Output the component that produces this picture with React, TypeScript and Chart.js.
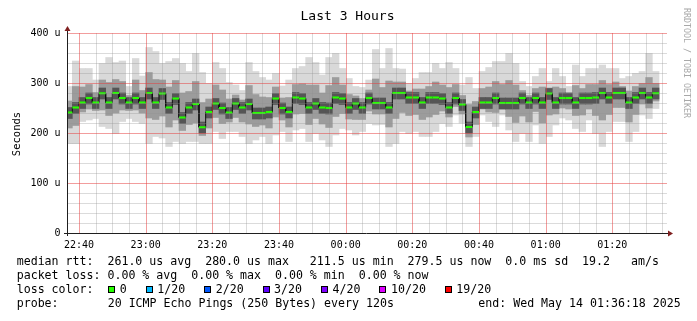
import React, { useEffect, useRef } from "react";
import { Chart, registerables } from "chart.js";

Chart.register(...registerables);

// time axis in minutes after 22:00 ; each ping step lasts 2 minutes
const xMin = 36.4;
const xMax = 216.4;
const firstStepStart = 36;
const stepMinutes = 2;

const medianRtt = [
  241, 251, 261, 270, 261, 279.5, 261, 280, 270, 261,
  270, 261, 280, 261, 279, 251, 269, 231, 251, 258,
  211.5, 242, 259, 250, 241, 259, 251, 258, 240, 240,
  242, 269, 250, 242, 271, 269, 251, 259, 251, 250,
  271, 269, 251, 259, 251, 270, 260, 260, 251, 280,
  280, 271, 271, 261, 271, 271, 269, 251, 270, 257,
  212, 242, 261, 261, 270, 260, 260, 260, 270, 261,
  270, 261, 279, 261, 270, 270, 261, 270, 270, 271,
  280, 271, 280, 280, 261, 271, 280, 271, 279.5,
];

const smokeMax = [
  293, 344, 329, 329, 306, 339, 351, 341, 344, 293,
  349, 314, 371, 363, 339, 343, 349, 339, 323, 359,
  321, 299, 341, 329, 301, 296, 285, 341, 323, 311,
  306, 319, 294, 306, 329, 333, 351, 341, 316, 351,
  359, 329, 309, 293, 291, 306, 367, 329, 369, 329,
  328, 299, 309, 321, 321, 339, 329, 341, 329, 296,
  311, 289, 323, 331, 343, 343, 359, 339, 303, 293,
  313, 329, 303, 329, 313, 293, 336, 313, 329, 329,
  336, 329, 329, 309, 313, 319, 323, 359, 323,
];

const smokeHigh = [
  264, 293, 292, 297, 281, 306, 301, 307, 303, 275,
  306, 285, 321, 307, 306, 292, 305, 280, 283, 303,
  261, 268, 296, 286, 268, 276, 266, 295, 277, 272,
  271, 292, 270, 271, 297, 298, 296, 296, 280, 295,
  311, 296, 277, 274, 269, 286, 308, 291, 304, 302,
  302, 284, 288, 288, 293, 302, 296, 291, 297, 275,
  257, 263, 289, 292, 303, 297, 305, 296, 285, 275,
  289, 292, 290, 292, 289, 280, 295, 289, 297, 297,
  305, 297, 302, 293, 284, 293, 299, 311, 299,
];

const coreHigh = [
  251, 261, 271, 280, 271, 290, 271, 290, 280, 271,
  280, 271, 290, 271, 289, 261, 279, 241, 261, 268,
  222, 252, 269, 260, 251, 269, 261, 268, 250, 250,
  252, 279, 260, 252, 281, 279, 261, 269, 261, 260,
  281, 279, 261, 269, 261, 280, 270, 270, 261, 290,
  290, 281, 281, 271, 281, 281, 279, 261, 280, 267,
  222, 252, 271, 271, 280, 270, 270, 270, 280, 271,
  280, 271, 289, 271, 280, 280, 271, 280, 280, 281,
  290, 281, 290, 290, 271, 281, 290, 281, 290,
];

const coreLow = [
  229, 239, 249, 258, 249, 268, 249, 268, 258, 249,
  258, 249, 268, 249, 267, 239, 257, 219, 239, 246,
  200, 230, 247, 238, 229, 247, 239, 246, 228, 228,
  230, 257, 238, 230, 259, 257, 239, 247, 239, 238,
  259, 257, 239, 247, 239, 258, 248, 248, 239, 268,
  268, 259, 259, 249, 259, 259, 257, 239, 258, 245,
  200, 230, 249, 249, 258, 248, 248, 248, 258, 249,
  258, 249, 267, 249, 258, 258, 249, 258, 258, 259,
  268, 259, 268, 268, 249, 259, 268, 259, 268,
];

const smokeLow = [
  210, 215, 242, 248, 245, 246, 235, 240, 246, 245,
  246, 240, 230, 227, 234, 212, 226, 205, 217, 220,
  195, 210, 231, 219, 222, 231, 222, 218, 213, 216,
  210, 232, 226, 212, 238, 239, 217, 229, 218, 211,
  233, 239, 228, 227, 227, 244, 238, 238, 212, 229,
  241, 235, 237, 227, 232, 237, 244, 232, 253, 238,
  192, 217, 248, 242, 241, 248, 233, 221, 234, 222,
  243, 220, 236, 238, 250, 248, 235, 236, 248, 235,
  226, 237, 251, 251, 222, 237, 258, 250, 264,
];

const smokeMin = [
  179, 179, 223, 226, 229, 213, 209, 199, 223, 229,
  223, 219, 179, 193, 190, 173, 183, 179, 183, 183,
  179, 179, 203, 189, 203, 203, 193, 179, 186, 193,
  179, 196, 203, 183, 206, 209, 183, 199, 186, 173,
  196, 209, 206, 196, 203, 219, 216, 217, 173, 179,
  203, 199, 203, 193, 193, 203, 219, 213, 236, 220,
  173, 193, 236, 223, 213, 236, 206, 183, 199, 183,
  216, 179, 193, 216, 230, 226, 209, 203, 226, 199,
  173, 203, 223, 223, 183, 203, 236, 229, 249,
];

const xTickValues = [40, 60, 80, 100, 120, 140, 160, 180, 200];
const xTickLabels = ["22:40", "23:00", "23:20", "23:40", "00:00", "00:20", "00:40", "01:00", "01:20"];
const yTickValues = [0, 100, 200, 300, 400];
const yTickLabels = ["0", "100 u", "200 u", "300 u", "400 u"];

const titleText = "Last 3 Hours";
const yTitle = "Seconds";
const watermark = "RRDTOOL / TOBI OETIKER";
const legendRtt = "median rtt:  261.0 us avg  280.0 us max   211.5 us min  279.5 us now  0.0 ms sd  19.2   am/s";
const legendLoss = "packet loss: 0.00 % avg  0.00 % max  0.00 % min  0.00 % now";
const legendColorTitle = "loss color:";
const lossColors = ["#26ff00", "#00b8ff", "#0059ff", "#5e00ff", "#7e00ff", "#dd00ff", "#ff0000"];
const lossLabels = ["0", "1/20", "2/20", "3/20", "4/20", "10/20", "19/20"];
const probeTitle = "probe:";
const probeText = "20 ICMP Echo Pings (250 Bytes) every 120s";
const endText = "end: Wed May 14 01:36:18 2025";

const MONO = "'DejaVu Sans Mono', monospace";

const stepCenter = (i: number) => firstStepStart + stepMinutes * i + stepMinutes / 2;

function band(lo: number[], hi: number[]) {
  return medianRtt.map((_, i) => ({ x: stepCenter(i), y: [lo[i], hi[i]] }));
}

const rrdPlugin = {
  id: "rrdDecor",
  afterDatasetsDraw(chart: any) {
    const ctx: CanvasRenderingContext2D = chart.ctx;
    const xs = chart.scales.x;
    const ys = chart.scales.y;
    const a = chart.chartArea;
    const px = (v: number) => Math.round(xs.getPixelForValue(v)) + 0.5;
    const py = (v: number) => Math.round(ys.getPixelForValue(v)) + 0.5;
    ctx.save();
    ctx.lineWidth = 1;

    // minor grid
    ctx.strokeStyle = "rgba(143,143,143,0.32)";
    ctx.beginPath();
    for (let m = 40; m <= xMax; m += 5) {
      if (m % 20 === 0) continue;
      const x = px(m);
      ctx.moveTo(x, a.top);
      ctx.lineTo(x, a.bottom);
    }
    for (let v = 20; v < 400; v += 20) {
      if (v % 100 === 0) continue;
      const y = py(v);
      ctx.moveTo(a.left, y);
      ctx.lineTo(a.right, y);
    }
    ctx.stroke();

    // major grid
    ctx.strokeStyle = "rgba(230,60,60,0.5)";
    ctx.beginPath();
    for (const m of xTickValues) {
      const x = px(m);
      ctx.moveTo(x, a.top);
      ctx.lineTo(x, a.bottom);
    }
    for (const v of yTickValues) {
      if (v === 0) continue;
      const y = py(v);
      ctx.moveTo(a.left, y);
      ctx.lineTo(a.right, y);
    }
    ctx.stroke();

    // axes
    const ax = Math.floor(a.left) + 0.5;
    const ay = Math.floor(a.bottom) + 0.5;
    ctx.strokeStyle = "#1f1f1f";
    ctx.beginPath();
    ctx.moveTo(ax, a.bottom + 3);
    ctx.lineTo(ax, a.top - 2);
    ctx.moveTo(a.left - 3, ay);
    ctx.lineTo(a.right + 2, ay);
    ctx.stroke();
    ctx.fillStyle = "#7f1f1f";
    ctx.beginPath();
    ctx.moveTo(ax - 3, a.top - 2);
    ctx.lineTo(ax + 3, a.top - 2);
    ctx.lineTo(ax, a.top - 7);
    ctx.closePath();
    ctx.fill();
    ctx.beginPath();
    ctx.moveTo(a.right + 1, ay - 3);
    ctx.lineTo(a.right + 1, ay + 3);
    ctx.lineTo(a.right + 6, ay);
    ctx.closePath();
    ctx.fill();

    // tick labels
    ctx.fillStyle = "#000";
    ctx.font = `10px ${MONO}`;
    ctx.textAlign = "center";
    ctx.textBaseline = "alphabetic";
    xTickValues.forEach((m, i) => {
      ctx.fillText(xTickLabels[i], xs.getPixelForValue(m), 248);
    });
    ctx.textAlign = "right";
    ctx.textBaseline = "middle";
    yTickValues.forEach((v, i) => {
      ctx.fillText(yTickLabels[i], 60.5, ys.getPixelForValue(v) + 0.5);
    });

    // title
    ctx.font = `13px ${MONO}`;
    ctx.textAlign = "center";
    ctx.textBaseline = "alphabetic";
    ctx.fillText(titleText, 347.5, 20);

    // y title
    ctx.save();
    ctx.font = `10.5px ${MONO}`;
    ctx.translate(19.5, (a.top + a.bottom) / 2 + 1);
    ctx.rotate(-Math.PI / 2);
    ctx.textAlign = "center";
    ctx.fillText(yTitle, 0, 0);
    ctx.restore();

    // watermark
    ctx.save();
    ctx.font = `8.3px ${MONO}`;
    ctx.fillStyle = "#a8a8a8";
    ctx.translate(683.5, 63);
    ctx.rotate(Math.PI / 2);
    ctx.textAlign = "center";
    ctx.fillText(watermark, 0, 0);
    ctx.restore();

    // legend
    ctx.font = `11.6px ${MONO}`;
    ctx.textAlign = "left";
    ctx.textBaseline = "alphabetic";
    ctx.fillStyle = "#000";
    const lx = 16.7;
    ctx.fillText(legendRtt, lx, 264.5);
    ctx.fillText(legendLoss, lx, 278.5);
    ctx.fillText(legendColorTitle, lx, 292.5);
    let bx = 108.3;
    lossLabels.forEach((lab, i) => {
      const rx = Math.round(bx);
      ctx.fillStyle = lossColors[i];
      ctx.fillRect(rx, 286, 7, 7);
      ctx.strokeStyle = "#000";
      ctx.strokeRect(rx + 0.5, 286.5, 6, 6);
      ctx.fillStyle = "#000";
      ctx.fillText(lab, bx + 11.5, 292.5);
      bx += 11.5 + ctx.measureText(lab).width + 19;
    });
    ctx.fillText(probeTitle, lx, 306.5);
    ctx.fillText(probeText, 107.7, 306.5);
    ctx.fillText(endText, 478.3, 306.5);

    ctx.restore();
  },
};

export default function App() {
  const ref = useRef<HTMLCanvasElement>(null);
  useEffect(() => {
    document.body.style.margin = "0";
    const canvas = ref.current;
    if (!canvas) return;
    const barCommon = {
      type: "bar" as const,
      grouped: false,
      barPercentage: 1,
      categoryPercentage: 1,
      borderWidth: 0,
      clip: 0,
    };
    const medianLine: { x: number; y: number }[] = [];
    medianRtt.forEach((m, i) => {
      const s = firstStepStart + stepMinutes * i;
      medianLine.push({ x: s, y: m });
      medianLine.push({ x: s + stepMinutes, y: m });
    });
    const chart = new Chart(canvas, {
      type: "bar",
      data: {
        datasets: [
          { ...barCommon, label: "outer", data: band(smokeMin, smokeMax) as any, backgroundColor: "#d9d9d9", order: 6 },
          { ...barCommon, label: "mid", data: band(smokeLow, smokeHigh) as any, backgroundColor: "#9c9c9c", order: 5 },
          { ...barCommon, label: "core", data: band(coreLow, coreHigh) as any, backgroundColor: "#555555", order: 4 },
          {
            type: "line" as const,
            label: "median",
            data: medianLine as any,
            borderColor: "#111111",
            borderWidth: 1,
            pointRadius: 0,
            tension: 0,
            fill: false,
            clip: 0,
            order: 2,
          },
          {
            ...barCommon,
            label: "loss 0",
            data: medianRtt.map((m, i) => ({ x: stepCenter(i), y: [m - 2.1, m + 2.1] })) as any,
            backgroundColor: "#26ff00",
            inflateAmount: 0,
            order: 1,
          },
        ] as any,
      },
      options: {
        responsive: false,
        maintainAspectRatio: false,
        devicePixelRatio: 1,
        animation: false,
        events: [],
        layout: { padding: { left: 67, top: 33, right: 30, bottom: 88 } },
        plugins: {
          legend: { display: false },
          tooltip: { enabled: false },
          title: { display: false },
        },
        scales: {
          x: { type: "linear", min: xMin, max: xMax, display: false, offset: false },
          y: { type: "linear", min: 0, max: 400, display: false },
        },
      } as any,
      plugins: [rrdPlugin],
    });
    return () => chart.destroy();
  }, []);
  return (
    <div style={{ position: "absolute", left: 0, top: 0, width: 697, height: 321, background: "#ffffff" }}>
      <canvas ref={ref} width={697} height={321} style={{ display: "block", width: 697, height: 321 }} />
    </div>
  );
}
